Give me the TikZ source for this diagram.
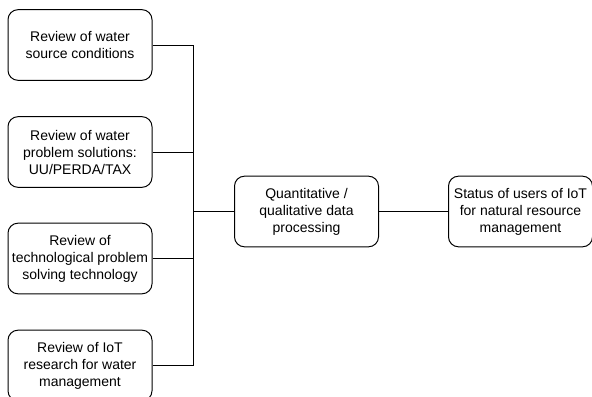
\documentclass[tikz,border=0pt]{standalone}
\usepackage{fontspec}
\setmainfont{Liberation Sans}
\usetikzlibrary{positioning}

\tikzset{every picture/.style={line width=0.75pt}}
\tikzset{
  revbox/.style={draw, rounded corners=7.5pt, minimum width=108pt, minimum height=53pt,
    align=center, inner sep=0.75pt, font=\fontsize{10.5}{12.75}\selectfont},
}

\begin{document}
\begin{tikzpicture}[x=0.75pt,y=0.75pt,yscale=-1,xscale=1]
\useasboundingbox (0,0) rectangle (592,396);

%Rounded Rect [id:reviews]
\node [revbox] (srccond) at (80,45) {Review of water\\source conditions};
\node [revbox] (solutions) at (80,152) {Review of water\\problem solutions:\\UU/PERDA/TAX};
\node [revbox] (techrev) at (80,258.5) {Review of\\technological problem\\solving technology};
\node [revbox] (iotrev) at (80,365.5) {Review of IoT\\research for water\\management};

%Rounded Rect [id:processing]
\node [revbox] (process) at (306.5,211.5) {Quantitative /\\qualitative data\\processing};
%Rounded Rect [id:status]
\node [revbox] (status) at (520.5,211.5) {Status of users of IoT\\for natural resource\\management};

%Straight Lines [id:bus]
\coordinate (bus) at (193,211.5);
\draw (srccond.east) -| (bus);
\draw (iotrev.east) -| (bus);
\draw (solutions.east) -- (solutions.east -| bus);
\draw (techrev.east) -- (techrev.east -| bus);
\draw (bus) -- (process.west);
\draw (process.east) -- (status.west);

\end{tikzpicture}
\end{document}
